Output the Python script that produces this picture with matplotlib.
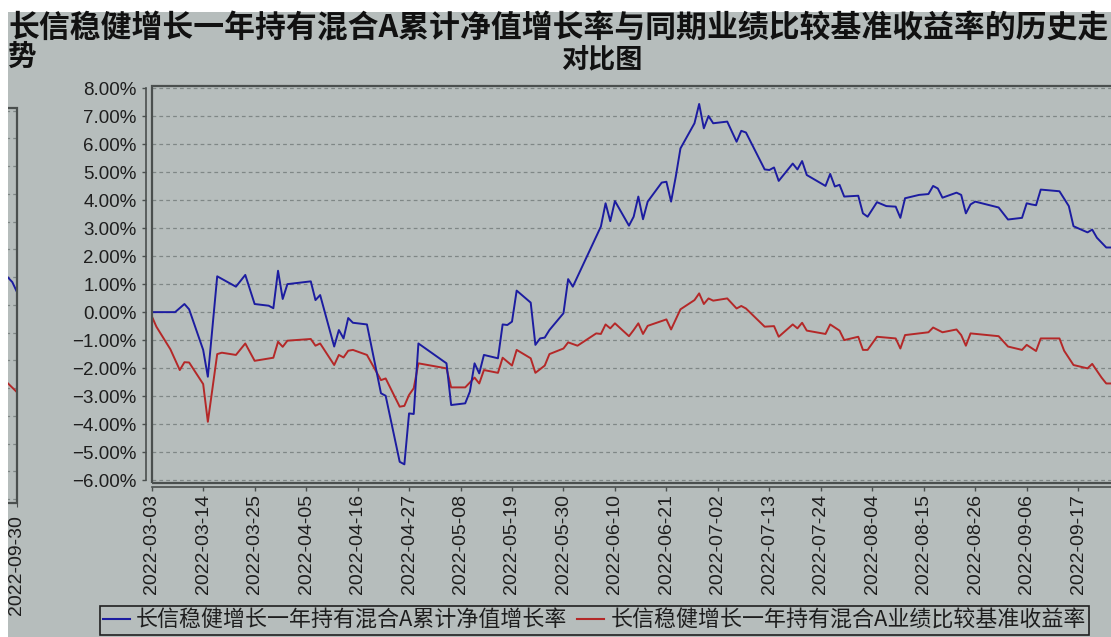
import matplotlib
matplotlib.use('Agg')
import matplotlib.pyplot as plt
from matplotlib.patches import Rectangle
from matplotlib.lines import Line2D
from matplotlib.font_manager import FontProperties
import pandas as pd

# ---------------- data ----------------
START = '2022-03-03'
END = '2022-09-30'

title_line1 = '长信稳健增长一年持有混合A累计净值增长率与同期业绩比较基准收益率的历史走'
title_left2 = '势'
title_line2 = '对比图'

series_names = ['长信稳健增长一年持有混合A累计净值增长率',
                '长信稳健增长一年持有混合A业绩比较基准收益率']

tick_labels = ['2022-03-03', '2022-03-14', '2022-03-25', '2022-04-05', '2022-04-16',
               '2022-04-27', '2022-05-08', '2022-05-19', '2022-05-30', '2022-06-10',
               '2022-06-21', '2022-07-02', '2022-07-13', '2022-07-24', '2022-08-04',
               '2022-08-15', '2022-08-26', '2022-09-06', '2022-09-17']
y_ticks = [-6, -5, -4, -3, -2, -1, 0, 1, 2, 3, 4, 5, 6, 7, 8]

# days after START, value in %
blue_days = [0, 5, 7, 8, 11, 12, 14, 18, 20, 22, 25, 26, 27, 28, 29, 34, 35, 36, 39, 40,
             41, 42, 43, 46, 49, 50, 53, 54, 55, 56, 57, 63, 64, 67, 68, 69, 70, 71, 74, 75,
             76, 77, 78, 81, 82, 83, 84, 85, 88, 89, 90, 96, 97, 98, 99, 102, 103, 104, 105, 106,
             109, 110, 111, 112, 113, 116, 117, 118, 119, 120, 123, 125, 126, 127, 131, 132, 133, 134, 137, 138,
             139, 140, 144, 145, 146, 147, 148, 151, 152, 153, 155, 157, 159, 160, 161, 164, 166, 167, 168, 169,
             172, 173, 174, 175, 176, 181, 183, 186, 187, 188, 189, 190, 194, 196, 197, 200, 201, 202, 204, 205]
blue_vals = [0.00, 0.00, 0.29, 0.10, -1.35, -2.31, 1.28, 0.91, 1.33, 0.29, 0.23, 0.14, 1.48, 0.47, 1.00, 1.10, 0.43, 0.61, -1.23, -0.64,
             -0.94, -0.21, -0.38, -0.44, -2.90, -2.99, -5.35, -5.44, -3.62, -3.64, -1.12, -1.83, -3.32, -3.26, -2.84, -1.83, -2.19, -1.53, -1.65, -0.44,
             -0.46, -0.34, 0.77, 0.34, -1.17, -0.94, -0.91, -0.64, -0.04, 1.18, 0.91, 3.06, 3.89, 3.25, 3.97, 3.09, 3.41, 4.13, 3.32, 3.95,
             4.63, 4.66, 3.95, 4.84, 5.85, 6.75, 7.44, 6.57, 7.01, 6.75, 6.81, 6.09, 6.48, 6.42, 5.10, 5.08, 5.17, 4.69, 5.31, 5.10,
             5.40, 4.90, 4.51, 4.94, 4.49, 4.55, 4.13, 4.16, 3.53, 3.41, 3.93, 3.79, 3.77, 3.37, 4.07, 4.19, 4.22, 4.51, 4.42, 4.09,
             4.27, 4.19, 3.53, 3.85, 3.95, 3.74, 3.31, 3.37, 3.89, 3.85, 3.82, 4.38, 4.32, 3.79, 3.07, 2.85, 2.95, 2.66, 2.31, 2.31]

red_days = [0, 1, 4, 6, 7, 8, 11, 12, 14, 15, 18, 20, 22, 26, 27, 28, 29, 34, 35, 36,
            39, 40, 41, 42, 43, 46, 49, 50, 53, 54, 55, 56, 57, 63, 64, 67, 69, 70, 71, 74,
            75, 77, 78, 81, 82, 84, 85, 88, 89, 91, 95, 96, 97, 98, 99, 102, 103, 104, 105, 106,
            110, 111, 113, 116, 117, 118, 119, 120, 123, 125, 126, 127, 131, 133, 134, 137, 138, 139, 140, 144,
            145, 147, 148, 151, 152, 153, 155, 159, 160, 161, 166, 167, 169, 172, 173, 174, 175, 181, 183, 186,
            187, 189, 190, 194, 195, 197, 200, 201, 203, 204, 205]
red_vals = [-0.14, -0.52, -1.33, -2.07, -1.79, -1.80, -2.57, -3.92, -1.50, -1.45, -1.53, -1.12, -1.74, -1.63, -1.06, -1.24, -1.02, -0.96, -1.20, -1.12,
            -1.89, -1.53, -1.62, -1.38, -1.35, -1.53, -2.43, -2.37, -3.38, -3.35, -2.96, -2.72, -1.83, -2.01, -2.69, -2.69, -2.34, -2.55, -2.07, -2.17,
            -1.63, -1.91, -1.35, -1.65, -2.17, -1.91, -1.50, -1.30, -1.08, -1.20, -0.76, -0.78, -0.44, -0.58, -0.40, -0.86, -0.64, -0.40, -0.78, -0.49,
            -0.26, -0.62, 0.10, 0.43, 0.67, 0.29, 0.49, 0.41, 0.49, 0.13, 0.22, 0.13, -0.52, -0.50, -0.88, -0.44, -0.58, -0.38, -0.66, -0.78,
            -0.44, -0.66, -1.00, -0.88, -1.35, -1.35, -0.88, -0.94, -1.30, -0.82, -0.72, -0.55, -0.72, -0.62, -0.82, -1.20, -0.76, -0.86, -1.23, -1.35,
            -1.17, -1.39, -0.94, -0.94, -1.38, -1.89, -2.01, -1.85, -2.34, -2.55, -2.55]

# tail of the neighbouring chart visible at the left edge
prev_blue_days = [209, 210, 211]
prev_blue_vals = [2.00, 1.82, 1.46]
prev_red_days = [209, 211]
prev_red_vals = [-1.82, -2.15]
prev_tick_label = '2022-09-30'

# ---------------- style ----------------
W, H = 1111, 637
BG = '#b6bdbc'
FRAME = '#4a4f4e'
GRID = '#7f8786'
BLUE = '#1c1ca0'
RED = '#b42828'
TXT = '#1e1e1e'
CJK = ['Noto Sans CJK SC', 'DejaVu Sans']
LAT = ['Liberation Sans', 'DejaVu Sans']

start = pd.Timestamp(START)
end = pd.Timestamp(END)
to_dates = lambda d: start + pd.to_timedelta(d, unit='D')

fig = plt.figure(figsize=(W / 100, H / 100), dpi=100, facecolor=BG)

# white strips of the screenshot
fig.patches.append(Rectangle((0, 1 - 12 / H), 1, 12 / H, transform=fig.transFigure,
                             facecolor='white', edgecolor='none', zorder=0))
fig.patches.append(Rectangle((0, 0), 8 / W, 1, transform=fig.transFigure,
                             facecolor='white', edgecolor='none', zorder=0))


def px_rect(x0, y0, x1, y1):
    return [x0 / W, (H - y1) / H, (x1 - x0) / W, (y1 - y0) / H]


def style_axes(ax):
    ax.set_facecolor(BG)
    for s in ax.spines.values():
        s.set_visible(False)
    ax.add_patch(Rectangle((0, 0), 1, 1, transform=ax.transAxes, fill=False,
                           edgecolor=FRAME, linewidth=1.6, zorder=5, clip_on=False))
    for v in y_ticks:
        ax.axhline(v, color=GRID, linewidth=0.9, linestyle=(0, (3, 2.5)), zorder=1)


# ---------- left sliver (neighbouring chart) ----------
axl = fig.add_axes(px_rect(-200, 108, 17, 503))
style_axes(axl)
axl.plot(to_dates(prev_blue_days), prev_blue_vals, color=BLUE, linewidth=1.4, zorder=3)
axl.plot(to_dates(prev_red_days), prev_red_vals, color=RED, linewidth=1.4, zorder=3)
axl.set_xlim(end - pd.Timedelta(days=46.4), end)
axl.set_ylim(-6.144, 8.097)
axl.set_yticks([])
axl.set_xticks([end])
axl.set_xticklabels([prev_tick_label], rotation=90, fontfamily=LAT, fontsize=14, color=TXT)
axl.tick_params(axis='x', length=3, pad=6, color=FRAME)

# ---------- main chart ----------
ax = fig.add_axes(px_rect(151.7, 86, 1139, 483))
style_axes(ax)
ax.plot(to_dates(red_days), red_vals, color=RED, linewidth=1.4, zorder=3)
ax.plot(to_dates(blue_days), blue_vals, color=BLUE, linewidth=1.4, zorder=4)
ax.set_xlim(start, end)
ax.set_ylim(-6.107, 8.082)

ax.spines['left'].set_visible(True)
ax.spines['left'].set_position(('outward', 4))
ax.spines['left'].set_bounds(-6, 8)
ax.spines['left'].set_color(FRAME)
ax.spines['left'].set_linewidth(1.2)
ax.spines['bottom'].set_visible(True)
ax.spines['bottom'].set_position(('outward', 3))
ax.spines['bottom'].set_color(FRAME)
ax.spines['bottom'].set_linewidth(1.2)

ax.set_yticks(y_ticks)
ax.set_yticklabels([f'{v:.2f}%'.replace('-', '\u2212') for v in y_ticks],
                   fontfamily=LAT, fontsize=13.5, color=TXT)
ax.set_xticks(pd.to_datetime(tick_labels))
ax.set_xticklabels(tick_labels, rotation=90, fontfamily=LAT, fontsize=14, color=TXT)
ax.tick_params(axis='y', direction='out', length=3, width=1, pad=4, color=FRAME)
ax.tick_params(axis='x', direction='out', length=3, width=1, pad=2, color=FRAME)

# ---------- titles ----------
fig.text(8 / W, 1 - 28 / H, title_line1, ha='left', va='center', fontsize=22.2,
         fontweight='bold', fontfamily=CJK, color='#111111')
fig.text(8 / W, 1 - 57 / H, title_left2, ha='left', va='center', fontsize=20.5,
         fontweight='bold', fontfamily=CJK, color='#111111')
fig.text(602 / W, 1 - 59 / H, title_line2, ha='center', va='center', fontsize=19.5,
         fontweight='bold', fontfamily=CJK, color='#111111')

# ---------- legend ----------
handles = [Line2D([], [], color=BLUE, linewidth=1.5), Line2D([], [], color=RED, linewidth=1.5)]
leg = fig.legend(handles, series_names, loc='upper left',
                 bbox_to_anchor=(100 / W, 1 - 606 / H), ncol=2, frameon=True,
                 fancybox=False, edgecolor='#202020', facecolor=BG, framealpha=1,
                 prop=FontProperties(family=CJK, size=15.8), handlelength=1.2,
                 handletextpad=0.3, columnspacing=0.45, borderpad=0.15, borderaxespad=0)
leg.get_frame().set_linewidth(1.2)
for t in leg.get_texts():
    t.set_color(TXT)

fig.savefig('out.png', dpi=100, facecolor=BG)
